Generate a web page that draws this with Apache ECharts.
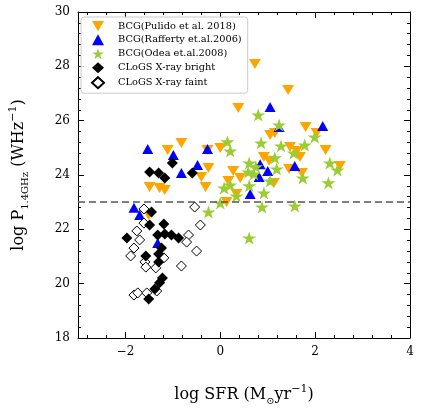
<!DOCTYPE html>
<html>
<head>
<meta charset="utf-8">
<script src="https://cdn.jsdelivr.net/npm/echarts@6/dist/echarts.min.js"></script>
<style>
  html, body { margin: 0; padding: 0; background: #fff; }
</style>
</head>
<body>
<div id="main" style="width: 421px; height: 411px;"></div>
<script>
// [log SFR, log P1.4GHz]
const pulido = [
  [0.73, 28.09], [1.43, 27.13], [0.38, 26.47], [-0.82, 25.18], [-1.11, 24.92],
  [-0.27, 24.92], [0.0, 24.99], [1.05, 25.47], [1.15, 25.55], [1.80, 25.77],
  [2.03, 25.55], [1.47, 25.03], [1.61, 24.88], [1.68, 24.66], [2.22, 24.92],
  [2.52, 24.33], [1.45, 24.22], [1.72, 24.07], [0.92, 24.66], [1.03, 24.52],
  [-0.25, 24.26], [0.27, 24.15], [-0.40, 23.93], [-0.31, 23.56], [-1.49, 23.56],
  [-1.28, 23.52], [-1.17, 23.45], [0.42, 23.89], [0.17, 23.78], [1.13, 23.71],
  [0.34, 23.30], [0.13, 23.01], [-1.51, 22.53]
]
const rafferty = [
  [-1.53, 24.96], [-0.99, 24.74], [-0.82, 24.07], [-0.48, 24.37], [-0.27, 24.96],
  [1.05, 26.50], [1.24, 25.77], [2.16, 25.80], [1.57, 24.33], [1.00, 24.15],
  [0.82, 23.93], [0.84, 24.40], [0.63, 23.30], [-1.82, 22.79], [-1.70, 22.53],
  [-1.32, 21.50]
]
const odea = [
  [0.80, 26.21], [1.24, 25.84], [1.99, 25.40], [0.15, 25.22], [0.21, 24.88],
  [0.86, 25.18], [1.28, 25.07], [1.55, 24.81], [1.78, 25.10], [2.31, 24.44],
  [2.47, 24.18], [2.28, 23.71], [1.74, 23.89], [1.15, 24.63], [0.61, 24.44],
  [0.75, 24.30], [0.59, 24.11], [0.71, 24.04], [1.19, 24.22], [1.05, 23.78],
  [0.61, 23.60], [0.21, 23.63], [0.08, 23.52], [0.34, 23.23], [0.92, 23.34],
  [0.0, 22.97], [0.88, 22.82], [-0.25, 22.64], [1.57, 22.86], [0.61, 21.68]
]
const clogsBright = [
  [-1.49, 24.11], [-1.30, 24.07], [-1.17, 23.89], [-1.01, 24.44], [-0.59, 24.07],
  [-1.45, 22.64], [-1.49, 22.16], [-1.19, 22.20], [-1.97, 21.68], [-1.32, 21.79],
  [-1.17, 21.83], [-1.03, 21.79], [-0.88, 21.68], [-1.24, 21.31], [-1.30, 21.09],
  [-1.57, 21.02], [-1.30, 20.80], [-1.22, 20.21], [-1.28, 20.03], [-1.38, 19.80],
  [-1.51, 19.44]
]
const clogsFaint = [
  [-1.61, 22.75], [-0.54, 22.82], [-0.42, 22.16], [-1.61, 22.23], [-1.76, 21.94],
  [-1.70, 21.61], [-1.82, 21.31], [-1.89, 21.02], [-1.59, 20.80], [-1.57, 20.61],
  [-1.36, 20.58], [-1.19, 20.95], [-0.67, 21.79], [-0.71, 21.53], [-0.50, 21.20],
  [-0.82, 20.65], [-1.82, 19.58], [-1.74, 19.66], [-1.55, 19.66], [-1.34, 19.73]
]
const dividerY = 23

// x tick positions (the x range starts at -3, ticks sit on even numbers)
const xMajorTicks = [-2, 0, 2, 4]
const xMinorTicks = [-2.8, -2.4, -1.6, -1.2, -0.8, -0.4, 0.4, 0.8, 1.2, 1.6, 2.4, 2.8, 3.2, 3.6]

const serif = "'DejaVu Serif', 'Liberation Serif', serif"
const starPath = 'path://M0,-1L0.2245,-0.309L0.951,-0.309L0.363,0.118L0.588,0.809L0,0.382L-0.588,0.809L-0.363,0.118L-0.951,-0.309L-0.2245,-0.309Z'
const downTriangle = 'path://M0,0L2,0L1,1.7Z'

const minus = v => String(v).replace('-', '\u2212')

const lineBlack = { color: '#000', width: 1 }

const titleRich = {
  a: { fontFamily: serif, fontSize: 16, color: '#000', lineHeight: 22 },
  s: { fontFamily: serif, fontSize: 10, color: '#000', lineHeight: 22, verticalAlign: 'bottom', padding: [6, 0, 0, 0] },
  p: { fontFamily: serif, fontSize: 11, color: '#000', lineHeight: 22, verticalAlign: 'top', padding: [0, 0, 6, 0] }
}

function xAxisOf(position, major, withLabel) {
  const ax = {
    type: 'value', min: -3, max: 4, position: position,
    axisLine: { show: major, onZero: false, lineStyle: lineBlack },
    axisTick: { show: true, inside: true, length: major ? 6 : 3, lineStyle: lineBlack,
      customValues: major ? xMajorTicks : xMinorTicks },
    axisLabel: { show: false },
    splitLine: { show: false }
  }
  if (withLabel) {
    ax.axisLabel = { show: true, customValues: xMajorTicks, formatter: minus,
      fontFamily: serif, fontSize: 12, color: '#000', margin: 8 }
    ax.name = '{a|log SFR (M}{s|\u2299}{a|yr}{p|\u22121}{a|)}'
    ax.nameLocation = 'middle'
    ax.nameGap = 46
    ax.nameTextStyle = { rich: titleRich }
  }
  return ax
}

const yCommon = {
  type: 'value', min: 18, max: 30, interval: 2,
  axisLine: { show: true, onZero: false, lineStyle: lineBlack },
  axisTick: { show: true, inside: true, length: 6, lineStyle: lineBlack },
  minorTick: { show: true, splitNumber: 5, length: 3, lineStyle: lineBlack },
  splitLine: { show: false }
}

const myChart = echarts.init(document.getElementById('main'))
const option = {
  animation: false,
  backgroundColor: '#fff',
  grid: { left: 76, right: 11, top: 12, bottom: 73 },
  legend: {
    orient: 'vertical',
    left: 81, top: 17,
    padding: [4, 6, 4, 10],
    itemGap: 3,
    itemWidth: 12, itemHeight: 11,
    borderColor: '#ccc', borderWidth: 1, borderRadius: 3,
    backgroundColor: 'rgba(255,255,255,0.8)',
    textStyle: { fontFamily: serif, fontSize: 9.8, color: '#000', padding: [0, 0, 0, 9] },
    data: ['BCG(Pulido et al. 2018)', 'BCG(Rafferty et.al.2006)', 'BCG(Odea et.al.2008)', 'CLoGS X-ray bright', 'CLoGS X-ray faint']
  },
  xAxis: [
    xAxisOf('bottom', true, true),
    xAxisOf('bottom', false, false),
    xAxisOf('top', true, false),
    xAxisOf('top', false, false)
  ],
  yAxis: [{
    ...yCommon,
    axisLabel: { fontFamily: serif, fontSize: 12, color: '#000', margin: 8 },
    name: '{a|log P}{s|1.4GHz}{a| (WHz}{p|\u22121}{a|)}',
    nameLocation: 'middle', nameRotate: 90, nameGap: 48,
    nameTextStyle: { rich: titleRich }
  }, {
    ...yCommon, position: 'right',
    axisLabel: { show: false }
  }],
  series: [
    {
      name: 'BCG(Pulido et al. 2018)', type: 'scatter', z: 2,
      symbol: downTriangle, symbolSize: [12, 10],
      itemStyle: { color: '#FFA500', opacity: 1 },
      data: pulido,
      markLine: {
        silent: true, symbol: 'none', label: { show: false },
        lineStyle: { color: '#555', type: [7, 4], width: 1.6 },
        data: [{ yAxis: dividerY }]
      }
    },
    {
      name: 'BCG(Rafferty et.al.2006)', type: 'scatter', z: 3,
      symbol: 'triangle', symbolSize: [11, 10],
      itemStyle: { color: '#0000FF', opacity: 1 },
      data: rafferty
    },
    {
      name: 'BCG(Odea et.al.2008)', type: 'scatter', z: 4,
      symbol: starPath, symbolSize: [14, 13],
      itemStyle: { color: '#9ACD32', opacity: 1 },
      data: odea
    },
    {
      name: 'CLoGS X-ray faint', type: 'scatter', z: 5,
      symbol: 'diamond', symbolSize: [10, 10],
      itemStyle: { color: '#fff', borderColor: '#000', borderWidth: 1, opacity: 1 },
      data: clogsFaint
    },
    {
      name: 'CLoGS X-ray bright', type: 'scatter', z: 6,
      symbol: 'diamond', symbolSize: [11, 11],
      itemStyle: { color: '#000', opacity: 1 },
      data: clogsBright
    }
  ]
}
option && myChart.setOption(option)
</script>
</body>
</html>
